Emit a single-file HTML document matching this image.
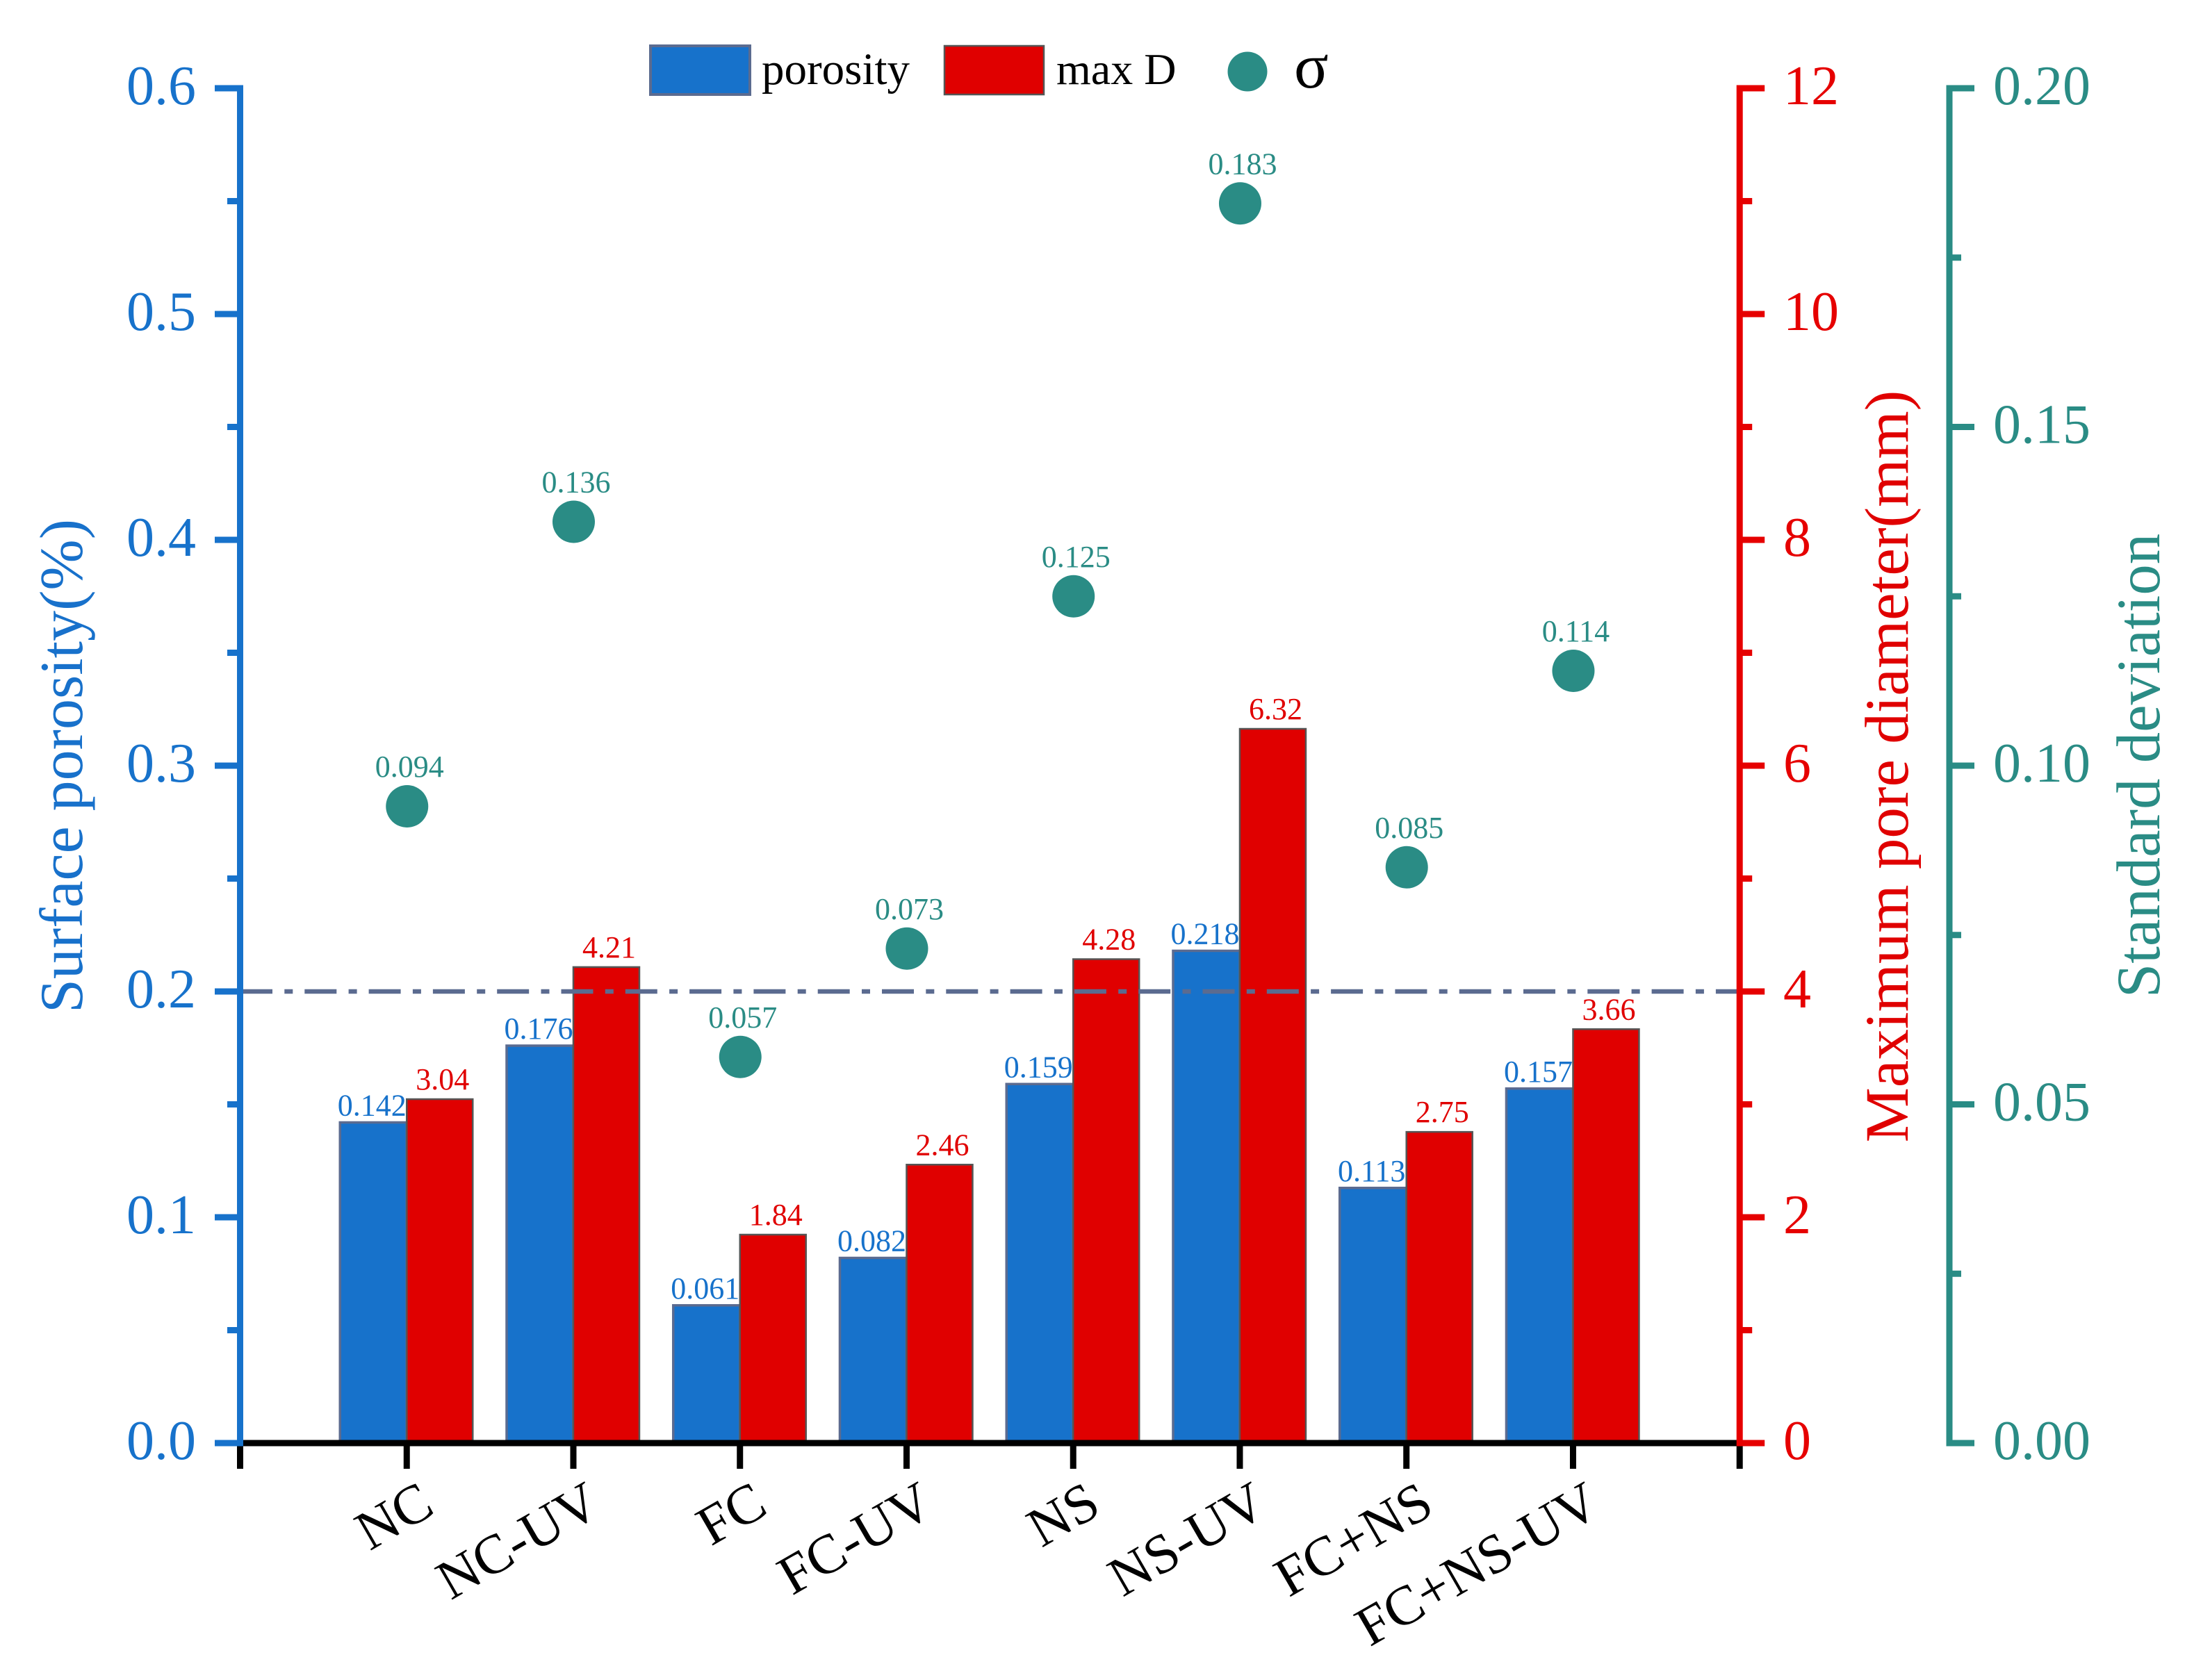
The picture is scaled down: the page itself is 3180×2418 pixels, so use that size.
<!DOCTYPE html>
<html lang="en">
<head>
<meta charset="utf-8">
<title>Surface porosity, maximum pore diameter and standard deviation</title>
<style>
html,body{margin:0;padding:0;background:#fff;width:3180px;height:2418px;overflow:hidden}
svg{display:block}
text{font-family:"Liberation Serif","Times New Roman",serif}
</style>
</head>
<body>
<svg id="chart" xmlns="http://www.w3.org/2000/svg" width="3180" height="2418" viewBox="0 0 3180 2418">
  <rect x="0" y="0" width="3180" height="2418" fill="#ffffff"/>
  <g id="bars"></g>
  <g id="reference"></g>
  <g id="dots"></g>
  <g id="labels"></g>
  <g id="axes"></g>

  <text transform="translate(118,1102.5) rotate(-90)" text-anchor="middle" font-size="88" fill="#1871cb">Surface porosity(%)</text>
  <text transform="translate(2745,1103) rotate(-90)" text-anchor="middle" font-size="89" fill="#e00000">Maximum pore diameter(mm)</text>
  <text transform="translate(3107,1102) rotate(-90)" text-anchor="middle" font-size="88.8" fill="#2a8c85">Standard deviation</text>

  <g>
    <rect x="936" y="66" width="143" height="70" fill="#1772cb" stroke="#5b6b90" stroke-width="4"/>
    <text x="1096" y="121" font-size="65" fill="#000">porosity</text>
    <rect x="1359" y="66" width="143" height="70" fill="#e00000" stroke="#555555" stroke-width="2.5"/>
    <text x="1520" y="121" font-size="64" fill="#000">max D</text>
    <circle cx="1795" cy="103" r="28.5" fill="#2a8c85"/>
    <text x="1862" y="126" font-size="92" fill="#000">σ</text>
  </g>
</svg>

<script>
const categories = ["NC", "NC-UV", "FC", "FC-UV", "NS", "NS-UV", "FC+NS", "FC+NS-UV"];
const porosity = [0.142, 0.176, 0.061, 0.082, 0.159, 0.218, 0.113, 0.157];
const maxD = [3.04, 4.21, 1.84, 2.46, 4.28, 6.32, 2.75, 3.66];
const sigma = [0.094, 0.136, 0.057, 0.073, 0.125, 0.183, 0.085, 0.114];
const porosityLabels = ["0.142", "0.176", "0.061", "0.082", "0.159", "0.218", "0.113", "0.157"];
const maxDLabels = ["3.04", "4.21", "1.84", "2.46", "4.28", "6.32", "2.75", "3.66"];
const sigmaLabels = ["0.094", "0.136", "0.057", "0.073", "0.125", "0.183", "0.085", "0.114"];
const porosityTicks = ["0.0", "0.1", "0.2", "0.3", "0.4", "0.5", "0.6"];
const maxDTicks = ["0", "2", "4", "6", "8", "10", "12"];
const sigmaTicks = ["0.00", "0.05", "0.10", "0.15", "0.20"];
const referenceValue = 0.2;

const NS = "http://www.w3.org/2000/svg";
const plot = { left: 345.5, right: 2503.2, top: 127, bottom: 2077, sigmaAxis: 2805 };
const BLUE = "#1772cb", RED = "#e00000", TEAL = "#2a8c85";
const barWidth = 96;

function xCat(i) { return plot.left + (plot.right - plot.left) * (i + 1) / (categories.length + 1); }
function yFrom(v, max) { return plot.bottom - (plot.bottom - plot.top) * v / max; }
function yPorosity(v) { return yFrom(v, 0.6); }
function yMaxD(v) { return yFrom(v, 12); }
function ySigma(v) { return yFrom(v, 0.2); }

function make(tag, attrs, parent) {
  const el = document.createElementNS(NS, tag);
  for (const k in attrs) el.setAttribute(k, attrs[k]);
  parent.appendChild(el);
  return el;
}

const barsG = document.getElementById("bars");
const dotsG = document.getElementById("dots");
const labelsG = document.getElementById("labels");
const refG = document.getElementById("reference");
const axesG = document.getElementById("axes");

categories.forEach(function (cat, i) {
  const cx = xCat(i);
  const slug = cat.toLowerCase().replace(/\+/g, "-");

  const pTop = yPorosity(porosity[i]);
  const pBar = make("rect", { x: cx - barWidth, y: pTop, width: barWidth, height: plot.bottom - pTop, fill: BLUE, stroke: "#5b6b90", "stroke-width": 3.5 }, barsG);
  
  

  const dTop = yMaxD(maxD[i]);
  const dBar = make("rect", { x: cx, y: dTop - 1, width: barWidth - 1, height: plot.bottom - dTop + 1, fill: RED, stroke: "#555555", "stroke-width": 2.5 }, barsG);
  
  

  const dot = make("circle", { cx: cx + 0.5, cy: ySigma(sigma[i]), r: 30.5, fill: TEAL }, dotsG);
  
  

  const pLabel = make("text", { x: cx - barWidth / 2 - 2, y: pTop - 10, "text-anchor": "middle", "font-size": 44, fill: BLUE }, labelsG);
  pLabel.textContent = porosityLabels[i];
  
  

  const dLabel = make("text", { x: cx + barWidth / 2 + 3.5, y: dTop - 15, "text-anchor": "middle", "font-size": 44, fill: RED }, labelsG);
  dLabel.textContent = maxDLabels[i];
  
  

  const sLabel = make("text", { x: cx + 4, y: ySigma(sigma[i]) - 42.5, "text-anchor": "middle", "font-size": 44, fill: TEAL }, labelsG);
  sLabel.textContent = sigmaLabels[i];
  
  
});

const refLine = make("line", { x1: 346, x2: plot.right, y1: yPorosity(referenceValue), y2: yPorosity(referenceValue), stroke: "#5b6b90", "stroke-width": 6.5, "stroke-dasharray": "46 17.3 12 17" }, refG);



/* x axis */
for (let i = 0; i <= categories.length + 1; i++) {
  const tx = plot.left + (plot.right - plot.left) * i / (categories.length + 1);
  const tick = make("line", { x1: tx, x2: tx, y1: plot.bottom, y2: 2114, stroke: "#000", "stroke-width": 9 }, axesG);
  
  
}
const xLine = make("line", { x1: plot.left, x2: plot.right, y1: plot.bottom, y2: plot.bottom, stroke: "#000", "stroke-width": 9 }, axesG);



categories.forEach(function (cat, i) {
  const ax = xCat(i) + 43;
  const lab = make("text", { transform: "translate(" + ax + ",2177) rotate(-30)", "text-anchor": "end", "font-size": 80, fill: "#000" }, axesG);
  lab.textContent = cat;
  
  
});

/* vertical axes: side = -1 ticks left, +1 ticks right */
function drawAxis(opts) {
  const spine = make("line", { x1: opts.x, x2: opts.x, y1: plot.top - 4.5, y2: plot.bottom + 4.5, stroke: opts.color, "stroke-width": 9 }, axesG);
  
  
  const n = opts.ticks.length - 1;
  for (let k = 0; k <= n; k++) {
    const v = parseFloat(opts.ticks[k]);
    const y = opts.scale(v);
    const edge = opts.x + opts.side * opts.major;
    const t = make("line", { x1: opts.x, x2: edge, y1: y, y2: y, stroke: opts.color, "stroke-width": 9 }, axesG);
    
    
    const lab = make("text", { x: opts.labelX, y: y + 23, "text-anchor": opts.side < 0 ? "end" : "start", "font-size": 80, fill: opts.color }, axesG);
    lab.textContent = opts.ticks[k];
    
    
    if (k < n) {
      const next = parseFloat(opts.ticks[k + 1]);
      const my = opts.scale((v + next) / 2);
      const m = make("line", { x1: opts.x, x2: opts.x + opts.side * opts.minor, y1: my, y2: my, stroke: opts.color, "stroke-width": 9 }, axesG);
      
      
    }
  }
}
drawAxis({ name: "left-y-axis", x: plot.left, side: -1, major: 36.5, minor: 18.5, color: BLUE, ticks: porosityTicks, scale: yPorosity, labelX: 282 });
drawAxis({ name: "middle-y-axis", x: plot.right, side: 1, major: 36, minor: 18, color: "#e60000", ticks: maxDTicks, scale: yMaxD, labelX: 2566 });
drawAxis({ name: "right-y-axis", x: plot.sigmaAxis, side: 1, major: 36, minor: 17, color: TEAL, ticks: sigmaTicks, scale: ySigma, labelX: 2868 });
</script>
</body>
</html>
